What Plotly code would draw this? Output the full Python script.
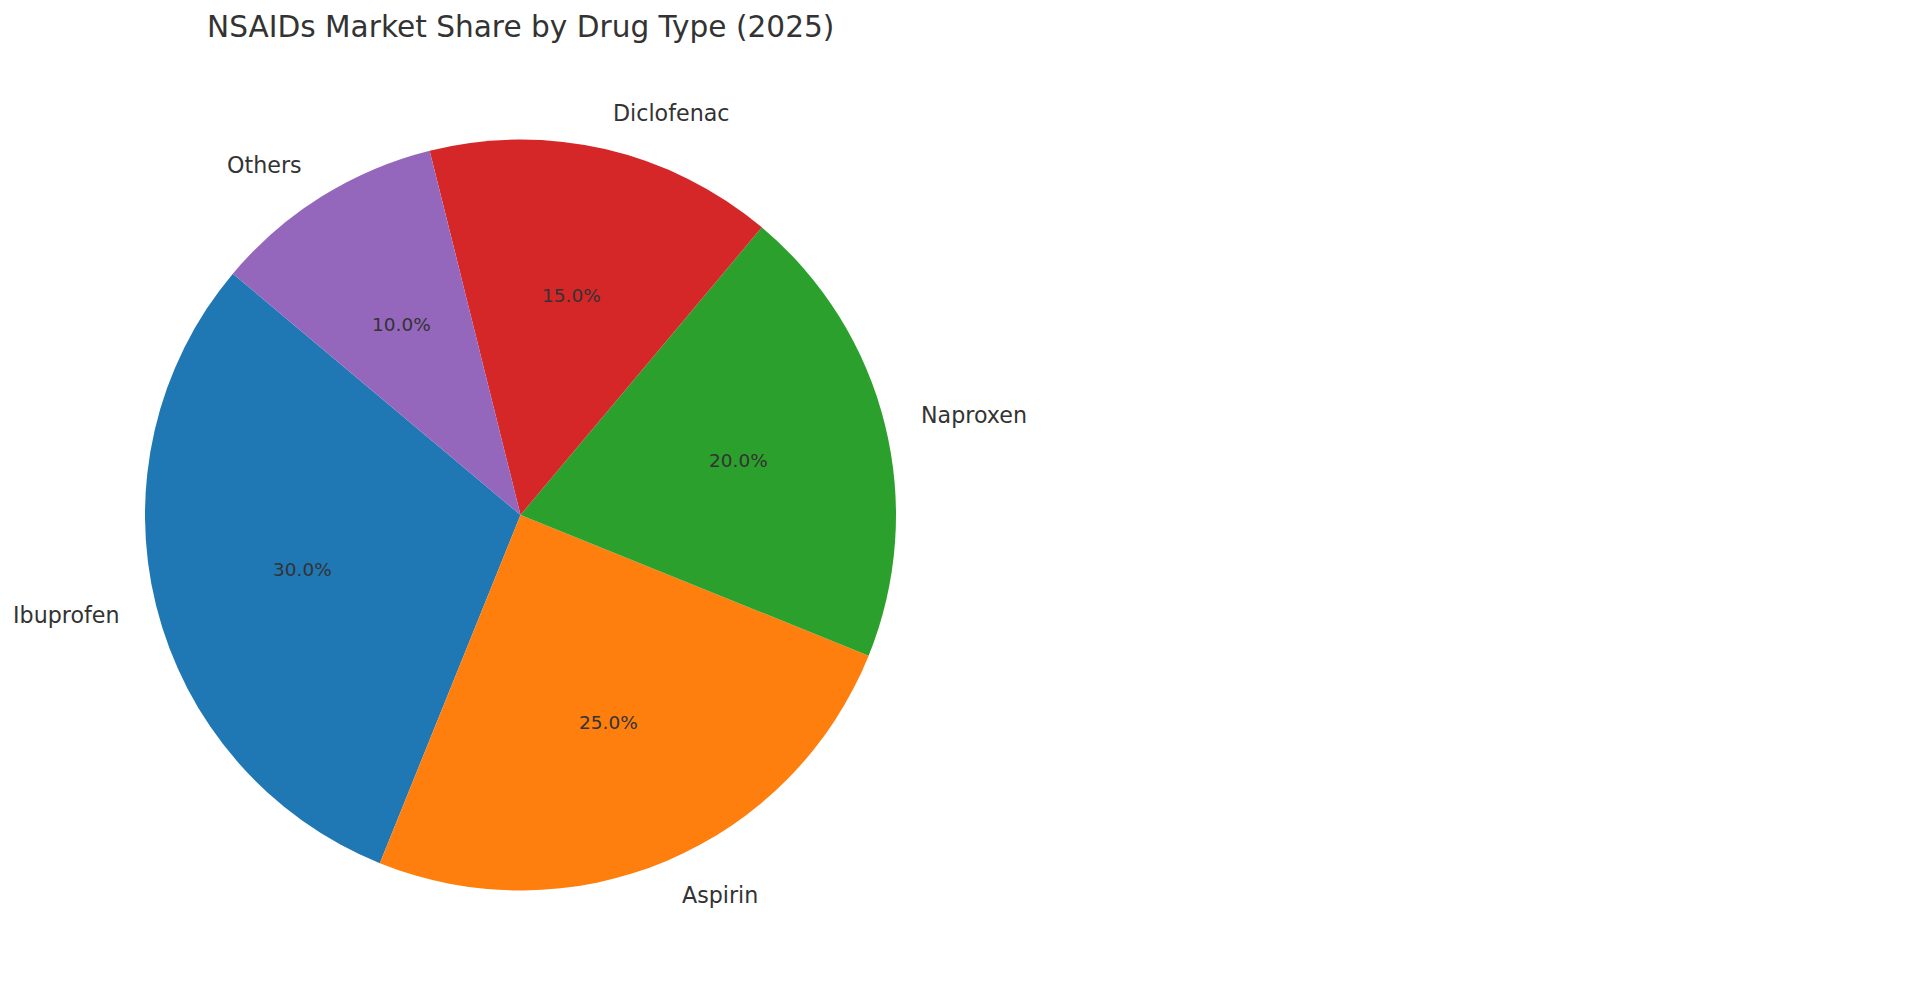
import math
import plotly.graph_objects as go

# ---- data ----
drug_types = ["Ibuprofen", "Aspirin", "Naproxen", "Diclofenac", "Others"]
market_share = [30, 25, 20, 15, 10]
slice_colors = ["#1f77b4", "#ff7f0e", "#2ca02c", "#d62728", "#9467bd"]
title_text = "NSAIDs Market Share by Drug Type (2025)"

# ---- layout geometry (pixels) ----
BODY_MARGIN = 8                     # default browser body margin
W, H = 1914 - 2 * BODY_MARGIN, 998 - 2 * BODY_MARGIN
CX, CY, R = 520.5 - BODY_MARGIN, 515.0 - BODY_MARGIN, 375.0
TITLE_Y = 27 - BODY_MARGIN
START_DEG = 140.0                   # matplotlib-style start angle (ccw from +x)
TEXT_COLOR = "#333333"
FONT = "DejaVu Sans"


def px_to_paper(x, y):
    return x / W, 1 - y / H


total = sum(market_share)
first_span = 360.0 * market_share[0] / total

fig = go.Figure()

x0, y0 = px_to_paper(CX - R - 0.5, CY + R + 0.5)
x1, y1 = px_to_paper(CX + R + 0.5, CY - R - 0.5)
fig.add_trace(go.Pie(
    labels=drug_types,
    values=market_share,
    sort=False,
    direction="counterclockwise",
    rotation=90 - START_DEG - first_span,
    marker=dict(colors=slice_colors, line=dict(width=0)),
    textinfo="none",
    hoverinfo="label+percent",
    showlegend=False,
    domain=dict(x=[x0, x1], y=[y0, y1]),
))

# text positions computed from the data (labels at 1.1 r, percentages at 0.6 r)
annotations = []
theta = START_DEG
for name, v in zip(drug_types, market_share):
    span = 360.0 * v / total
    mid = math.radians(theta + span / 2)
    c, s = math.cos(mid), math.sin(mid)
    lx, ly = px_to_paper(CX + 1.1 * R * c, CY - 1.1 * R * s)
    annotations.append(dict(
        x=lx, y=ly, xref="paper", yref="paper", text=name, showarrow=False,
        xanchor="left" if c > 0 else "right", yanchor="middle",
        borderpad=0, borderwidth=0,
        font=dict(family=FONT, size=22.2, color=TEXT_COLOR),
    ))
    px_, py_ = px_to_paper(CX + 0.6 * R * c, CY - 0.6 * R * s)
    annotations.append(dict(
        x=px_, y=py_, xref="paper", yref="paper", text=f"{100.0 * v / total:.1f}%",
        showarrow=False, xanchor="center", yanchor="middle",
        borderpad=0, borderwidth=0,
        font=dict(family=FONT, size=18.5, color=TEXT_COLOR),
    ))
    theta += span

tx, ty = px_to_paper(CX, TITLE_Y)
annotations.append(dict(
    x=tx, y=ty, xref="paper", yref="paper", text=title_text, showarrow=False,
    xanchor="center", yanchor="middle", borderpad=0, borderwidth=0,
    font=dict(family=FONT, size=29.6, color=TEXT_COLOR),
))

fig.update_layout(
    width=W, height=H,
    margin=dict(l=0, r=0, t=0, b=0),
    paper_bgcolor="white", plot_bgcolor="white",
    annotations=annotations,
)

fig.write_html("out.html")
